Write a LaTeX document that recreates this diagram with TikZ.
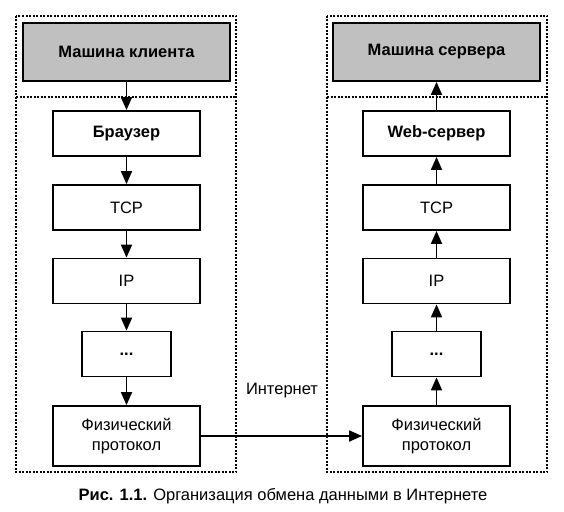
\documentclass[tikz,border=0pt]{standalone}
\usepackage{fontspec}
\setmainfont{Liberation Sans}
\usetikzlibrary{positioning, arrows.meta}
\definecolor{hostgray}{RGB}{192,192,192}

\begin{document}
\begin{tikzpicture}[x=1pt, y=-1pt,
	layer/.style={draw, line width=1.8pt, minimum width=147pt, minimum height=45pt, inner sep=0pt, font=\fontsize{16.5}{20}\selectfont},
	host/.style={layer, fill=hostgray, minimum width=207pt, minimum height=58pt, font=\fontsize{16.5}{20}\selectfont\bfseries},
	frame/.style={line width=1.2pt, dash pattern=on 2pt off 1.5pt},
	flow/.style={line width=1.8pt, -{Triangle[length=13pt, width=11pt]}}]
	\useasboundingbox (0,0) rectangle (564,511);
	% dotted frames
	\draw[frame] (16,16) rectangle (236,472); \draw[frame] (16,97) -- (236,97);
	\draw[frame] (327,16) rectangle (547,472); \draw[frame] (327,97) -- (547,97);
	% client side
	\node[host] (cm) at (126.5,52) {Машина клиента};
	\node[layer, font=\fontsize{16.5}{20}\selectfont\bfseries] (cbr) at (126.5,133.5) {Браузер};
	\node[layer] (ctcp) at (126.5,207.5) {TCP};
	\node[layer] (cip) at (126.5,281) {IP};
	\node[layer, minimum width=89pt, font=\fontsize{16.5}{20}\selectfont\bfseries] (cdots) at (126.5,354) {...};
	\node[layer, minimum height=60pt, align=center] (cphy) at (126.5,436) {Физический\\протокол};
	% server side
	\node[host] (sm) at (436.5,52) {Машина сервера};
	\node[layer, font=\fontsize{16.5}{20}\selectfont\bfseries] (sweb) at (436.5,133.5) {Web-сервер};
	\node[layer] (stcp) at (436.5,207.5) {TCP};
	\node[layer] (sip) at (436.5,281) {IP};
	\node[layer, minimum width=89pt, font=\fontsize{16.5}{20}\selectfont\bfseries] (sdots) at (436.5,354) {...};
	\node[layer, minimum height=60pt, align=center] (sphy) at (436.5,436) {Физический\\протокол};
	% arrows
	\draw[flow] (cm) -- (cbr); \draw[flow] (cbr) -- (ctcp); \draw[flow] (ctcp) -- (cip);
	\draw[flow] (cip) -- (cdots); \draw[flow] (cdots) -- (cphy);
	\draw[flow] (sphy) -- (sdots); \draw[flow] (sdots) -- (sip); \draw[flow] (sip) -- (stcp);
	\draw[flow] (stcp) -- (sweb); \draw[flow] (sweb) -- (sm);
	\draw[flow] (cphy) -- (sphy);
	\node[font=\fontsize{16.5}{20}\selectfont] (net) at (282,391) {Интернет};
	\node[font=\fontsize{16.5}{20}\selectfont] (cap) at (283,496) {\textbf{Рис. 1.1.} Организация обмена данными в Интернете};
\end{tikzpicture}
\end{document}
